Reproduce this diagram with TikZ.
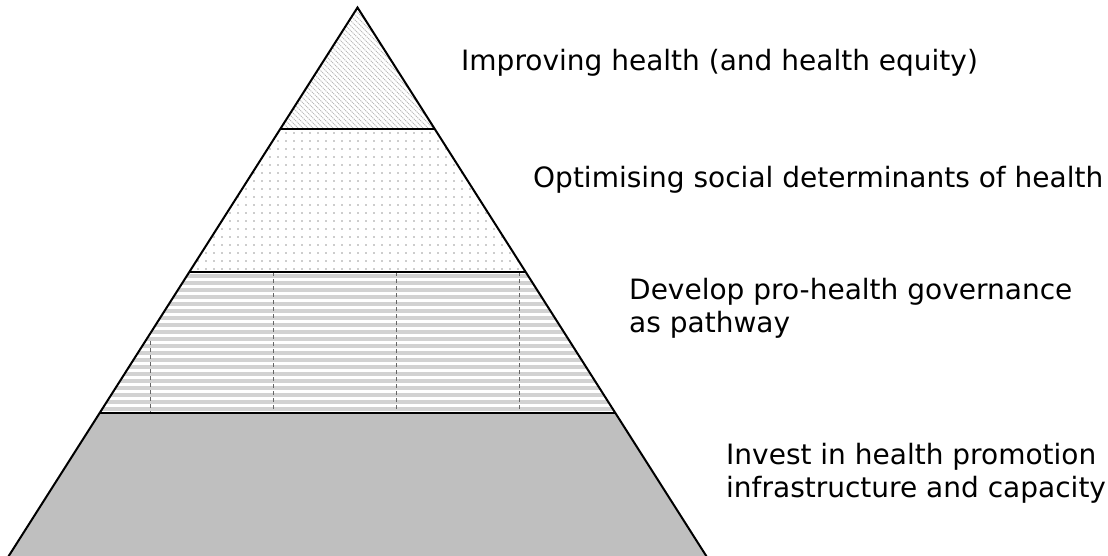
\documentclass[tikz,border=0pt]{standalone}
\usepackage{fontspec}
\setmainfont{DejaVu Sans}
\begin{document}
\begin{tikzpicture}[x=1pt,y=-1pt,
  levellabel/.style={anchor=base west, inner sep=0pt, align=left,
    font=\fontsize{28}{32.5}\selectfont},
  outline/.style={line width=2pt, line join=miter},
  divider/.style={line width=2.6pt},
  hatchline/.style={gray!55, line width=0.9pt, dash pattern=on 1.2pt off 0.8pt},
  stripe/.style={fill=gray!35},
  dot/.style={fill=gray!80},
  gridline/.style={gray!80!black, line width=0.8pt, dash pattern=on 4pt off 3pt},
]
\useasboundingbox (0,0) rectangle (1108,555);

% corner points of the pyramid and of its levels
\coordinate (apex) at (357.5,7.5);
\coordinate (l1) at (280.2,129);   \coordinate (r1) at (434.8,129);
\coordinate (l2) at (189.2,272);   \coordinate (r2) at (525.8,272);
\coordinate (l3) at (99.5,413);    \coordinate (r3) at (615.5,413);
\coordinate (l4) at (3.0,565);     \coordinate (r4) at (712.0,565);

% level 4: solid grey base
\fill[black!25] (l3) -- (r3) -- (r4) -- (l4) -- cycle;

% level 3: horizontal stripes with dashed columns
\begin{scope}
  \clip (l2) -- (r2) -- (r3) -- (l3) -- cycle;
  \foreach \y in {274,281,...,414}
    \path[stripe] (90,\y) rectangle (620,\y+3.5);
  \draw[gridline] (150.7,341) -- (150.7,413);
  \foreach \x in {273.3,396,519}
    \draw[gridline] (\x,272) -- (\x,413);
\end{scope}

% level 2: dotted grid
\begin{scope}
  \clip (l1) -- (r1) -- (r2) -- (l2) -- cycle;
  \foreach \y in {133,141,...,272}
    \foreach \x in {182,190,...,530}
      \path[dot] (\x,\y) circle (0.85);
\end{scope}

% level 1: diagonal hatching
\begin{scope}
  \clip (apex) -- (r1) -- (l1) -- cycle;
  \foreach \x in {120,125,...,440}
    \draw[hatchline] (\x,0) -- (\x+140,140);
\end{scope}

% outline and level dividers
\draw[outline] (l4) -- (apex) -- (r4);
\draw[divider] (l1) -- (r1);
\draw[divider] (l2) -- (r2);
\draw[divider] (l3) -- (r3);

% level labels
\node[levellabel] (t1) at (461,70) {Improving health (and health equity)};
\node[levellabel] (t2) at (533,187) {Optimising social determinants of health};
\node[levellabel] (t3) at (629,332) {Develop pro-health governance\\as pathway};
\node[levellabel] (t4) at (726,497) {Invest in health promotion\\infrastructure and capacity};
\end{tikzpicture}
\end{document}
